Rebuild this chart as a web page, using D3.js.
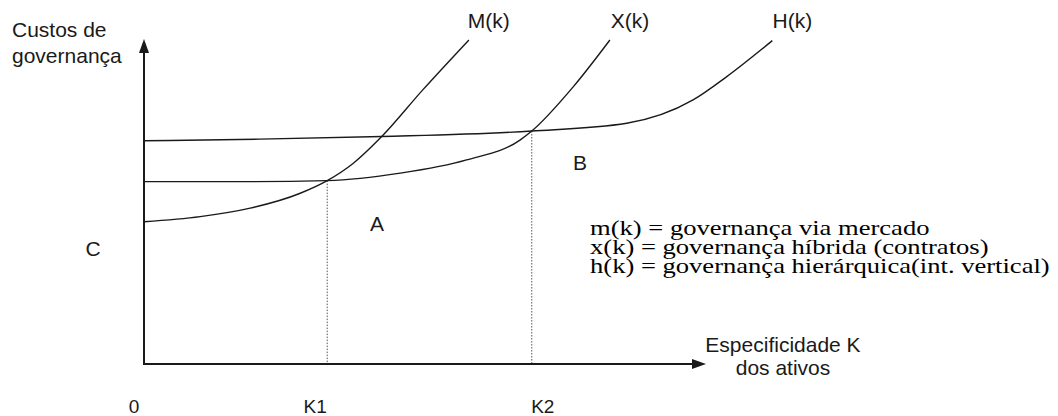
<!DOCTYPE html>
<html>
<head>
<meta charset="utf-8">
<script src="https://cdn.jsdelivr.net/npm/d3@7/dist/d3.min.js"></script>
<style>
  html, body { margin: 0; padding: 0; background: #fff; }
  svg { display: block; }
</style>
</head>
<body>
<svg id="chart" width="1058" height="416"></svg>
<script>
// ---- data (k = asset specificity, c = governance cost, arbitrary units) ----
const mK = [0, 10.0, 18.9, 27.8, 32.6, 37.2, 42.3, 49.6, 57.8];
const mC = [43.9, 45.5, 48.1, 52.7, 56.6, 61.9, 70.2, 84.6, 100];

const xK = [0, 18.9, 32.6, 45.6, 57.4, 66.9, 69.0, 76.4, 82.9];
const xC = [56.3, 56.3, 56.6, 58.9, 63.0, 69.1, 71.9, 85.6, 100];

const hK = [0, 20.6, 42.3, 69.0, 85.9, 97.7, 103.7, 111.8];
const hC = [68.9, 69.4, 70.2, 71.9, 74.3, 81.5, 88.7, 99.8];

const curveNames = ["M(k)", "X(k)", "H(k)"];
const tickK = [0, 32.6, 69.0];
const tickLabels = ["0", "K1", "K2"];
const dropK = [32.6, 69.0];
const dropC = [56.6, 71.9];

const regionLabels = ["A", "B", "C"];
const legendLines = [
  "m(k) = governança via mercado",
  "x(k) = governança híbrida (contratos)",
  "h(k) = governança hierárquica(int. vertical)"
];

// ---- layout ----
const svg = d3.select("#chart");
const x = d3.scaleLinear().domain([0, 100]).range([144, 706]);
const y = d3.scaleLinear().domain([0, 100]).range([364, 40]);
const sans = "'Liberation Sans', Arial, sans-serif";
const serif = "'Liberation Serif', 'Times New Roman', serif";
const ink = "#1a1a1a";

// dotted drop lines
svg.selectAll("line.drop").data(dropK).join("line")
  .attr("class", "drop")
  .attr("x1", d => x(d)).attr("x2", d => x(d))
  .attr("y1", (d, i) => y(dropC[i])).attr("y2", y(0))
  .attr("stroke", "#555").attr("stroke-width", 1)
  .attr("stroke-dasharray", "1.5,1.5");

// curves
const line = d3.line().x(d => x(d[0])).y(d => y(d[1])).curve(d3.curveMonotoneX);
const series = [d3.zip(mK, mC), d3.zip(xK, xC), d3.zip(hK, hC)];
svg.selectAll("path.curve").data(series).join("path")
  .attr("class", "curve")
  .attr("d", line)
  .attr("fill", "none").attr("stroke", ink).attr("stroke-width", 1.4);

// axes
svg.append("line").attr("x1", x(0)).attr("x2", x(0))
  .attr("y1", y(0) + 1).attr("y2", y(100) + 8)
  .attr("stroke", ink).attr("stroke-width", 2);
svg.append("line").attr("x1", x(0) - 1).attr("x2", x(100) - 8)
  .attr("y1", y(0)).attr("y2", y(0))
  .attr("stroke", ink).attr("stroke-width", 2);
// arrow heads
svg.append("path")
  .attr("d", `M${x(0)},${y(100) - 1} L${x(0) - 5},${y(100) + 13} L${x(0) + 5},${y(100) + 13} Z`)
  .attr("fill", ink);
svg.append("path")
  .attr("d", `M${x(100)},${y(0)} L${x(100) - 14},${y(0) - 5} L${x(100) - 14},${y(0) + 5} Z`)
  .attr("fill", ink);

// tick labels under axis
const tickDx = [-10, -12, 11];
svg.selectAll("text.tick").data(tickLabels).join("text")
  .attr("class", "tick")
  .attr("x", (d, i) => x(tickK[i]) + tickDx[i]).attr("y", 413)
  .attr("text-anchor", "middle")
  .attr("font-family", sans).attr("font-size", 19).attr("fill", ink)
  .text(d => d);

// curve name labels
const nameEnds = [mK[mK.length - 1], xK[xK.length - 1], hK[hK.length - 1]];
svg.selectAll("text.name").data(curveNames).join("text")
  .attr("class", "name")
  .attr("x", (d, i) => x(nameEnds[i]) + 20).attr("y", 28)
  .attr("text-anchor", "middle")
  .attr("font-family", sans).attr("font-size", 21).attr("fill", ink)
  .text(d => d);

// axis titles
const yTitle = svg.append("text").attr("font-family", sans).attr("font-size", 21).attr("fill", ink);
yTitle.append("tspan").attr("x", 12).attr("y", 37).text("Custos de");
yTitle.append("tspan").attr("x", 12).attr("y", 63).text("governança");

const xTitle = svg.append("text").attr("font-family", sans).attr("font-size", 21)
  .attr("fill", ink).attr("text-anchor", "middle");
xTitle.append("tspan").attr("x", 783).attr("y", 352).text("Especificidade K");
xTitle.append("tspan").attr("x", 783).attr("y", 375).text("dos ativos");

// region labels
const regionPos = [[377, 231], [580, 170], [93, 256]];
svg.selectAll("text.region").data(regionLabels).join("text")
  .attr("class", "region")
  .attr("x", (d, i) => regionPos[i][0]).attr("y", (d, i) => regionPos[i][1])
  .attr("text-anchor", "middle")
  .attr("font-family", sans).attr("font-size", 21).attr("fill", ink)
  .text(d => d);

// legend (serif)
const leg = svg.append("g");
const legTexts = leg.selectAll("text").data(legendLines).join("text")
  .attr("x", 0).attr("y", (d, i) => i * 19.2)
  .attr("font-family", serif).attr("font-size", 20.5).attr("fill", "#000")
  .text(d => d);
const natural = legTexts.nodes()[2].getComputedTextLength();
const sx = 460 / natural;
leg.attr("transform", `translate(590,235) scale(${sx},1)`);
</script>
</body>
</html>
